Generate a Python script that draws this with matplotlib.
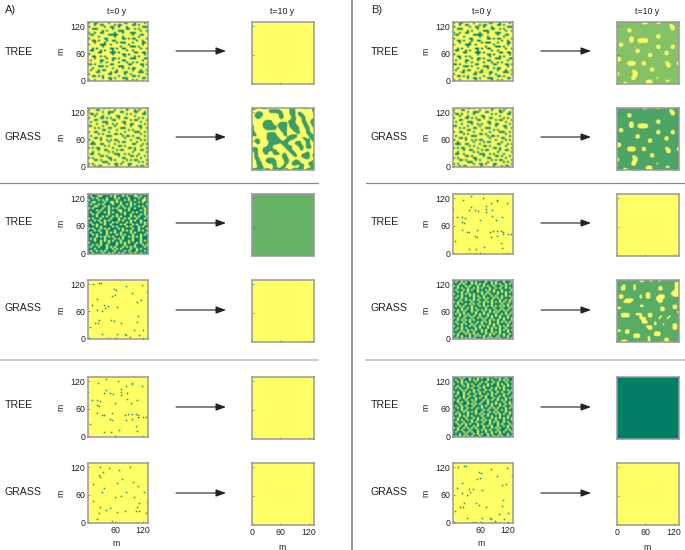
import numpy as np
import matplotlib
matplotlib.use('Agg')
import matplotlib.pyplot as plt

plt.rcParams['font.family'] = ['Liberation Sans', 'DejaVu Sans']

W, H = 685, 550

# initial states, '#' = occupied cell, read by eye so only roughly cell-accurate
noise_light_1 = [
    "#..##.....#.......##...#....#.", "...#..##.....#.##.....##.#....", "#.......#..##..#...#.......###",
    "..###.......#......##..#.#....", ".......#.#.....###........#..#", "#..#..##.....#...#...###......",
    ".##.......#####.......#...##..", ".....#.......#...#.......#....", "#.......##.......##.#.##.....#",
    "..##.#...#..##..........#..#..", "...#....#.....#.###...#....##.", "#.....###..#........#......#..",
    ".......#........#....###.#....", "..#.#......##.#..##.......#..#", ".##...#.#...#......#..#.......",
    ".....##....###.#.......##..##.", "#...........#....##.#.......#.", "..##..#.#.........#....#.#....",
    "...#.....#..##.#.....###....##", ".#....##....#....##........#..", "......#..#.....#...#..#.#.....",
    "##.#.......##.......##....##.#", ".....###.#.....###.........#..", "..#.........#....#..#.##......",
    ".#...#.##.....#.......#...#..#", "....##.....#.##...##.....###..", "#.........##......#..#.......#",
    "..##.#.#.......#......##.#....", ".......#..##.#...###.......##.", "#..#.......#.......#..#.#.....",
]
noise_light_2 = [
    "..#....##.#.....#..##.....#..#", "#...##.......#.....#...#.#....", ".......#..###...##.....##...#.",
    ".##.#.....#........#.#.....##.", "...#...#......##.......#......", "#.....##.#.#...#..##.....#.#..",
    "...##.......##.......#.##....#", ".#.....###.......##.......#...", "....#....#..#.#...#..##.....#.",
    "##.....#.....#.......#...##...", "...#.#....##....###.......#..#", ".......##.....#.....#.#.......",
    "#..##.....#.......#....###..#.", ".....#.#.....##.#.........#...", ".#.......###.....#.##.#.....#.",
    "...##.#...........#.....##....", "#.....#..#.#.##......#....#.#.", "..#.......#....#.##.....#.....",
    ".###..##.....#........##...#.#", "........#.#....##.#.......#...", "#.#.##......#.......##.#.....#",
    ".....#..##....#.##.....#..##..", "..#.......#.#.........#......#", ".##..#.......###..#.#....#....",
    "......##.#.....#.....##.#...#.", "#.#.......##.....##.......#...", "...##.#....#.#.....#.#.##....#",
    ".......###.......#.......#.#..", "#.#.......#..##.#...##.......#", "...#.##.......#.....#...#.##..",
]
noise_dark_1 = [
    "####.##.#.###..##.###.#.####.#", "#.###..####.#.###.#.###..#.###", "##.#.####.###.#.####.####.##.#",
    ".####.#.#.####.###.#.##.###..#", "##..####.##..#.#.####.###.#.##", "#.###.#.####.###.##.#.#.#####.",
    "###..###.#.####.#.###.###.#.##", ".#.####.##.#.#.###.#.##.####.#", "####.#.###.####..###.#####.#.#",
    "#.###.##.#.#.###.#.###.#.###.#", "##.#.#####.###.###.##.####.#.#", "####.##.#.##.#.#.####.#.#.###.",
    ".#.###.####.###.##.#.###.###.#", "###.#.##.#.####.#.###.#.##.###", "#.####.#.###.#.####.#.####.#.#",
    "##.#.###.##.####.#.###.#.###.#", "####.#.#####.#.####.#.###.#.##", ".#.###.#.#.####.#.####.##.###.",
    "###.#.###.###.###.#.#.###.#.##", "#.####.##.#.#.##.####.#.#####.", "##.#.####.####.#.#.###.###.#.#",
    "####.#.#.#.#.####.##.#.#.#.###", "#.#.####.####.#.#.####.###.###", "###.##.#.#.#.###.###.#.###.#.#",
    ".#####.###.###.#.#.#.###.#.###", "##.#.#.##.####.###.####.###.#.", "#.###.###.#.#.###.#.#.#.####.#",
    "###.#####.##.#.#.####.##.#.###", "#.##.#.#.####.####.#.###.###.#", "##.####.##.#.##.#.###.#.##.###",
]
noise_dark_2 = [
    "##.#.###.####.##.#.###.##.##.#", "#.##.#.##.#.####.##.#.###.###.", "###.#.###.#.#.#.###.#.#.##.#.#",
    ".#.###.#.###.##.#.##.###.#.###", "##.#.##.##.#.#.###.##.#.##.#.#", "#.###.#.#.##.###.#.#.###.####.",
    "##.#.##.####.#.##.##.#.#.#.#.#", ".###.#.#.#.###.#.#.###.###.###", "##.#.###.#.#.##.###.#.##.#.#.#",
    "#.##.#.###.##.#.#.##.#.#.####.", "###.##.#.#.#.###.##.###.##.#.#", ".#.#.####.###.#.#.#.#.#.#.##.#",
    "##.###.#.#.#.##.###.####.##.##", "#.#.#.###.###.#.#.#.#.#.#.#.#.", "####.##.#.#.####.###.###.###.#",
    ".#.#.#.##.##.#.#.#.##.#.#.#.##", "##.##.###.#.###.##.#.#.###.##.", "#.#.#.#.###.#.#.#.###.##.#.#.#",
    "###.##.#.#.##.###.#.#.#.###.##", ".#.##.###.##.#.#.##.###.#.#.#.", "##.#.#.#.#.####.##.#.#.##.###.",
    "#.###.##.###.#.#.#.###.#.#.#.#", "##.#.#.##.#.##.###.#.#.####.##", ".###.###.#.##.#.#.##.##.#.#.#.",
    "##.#.#.####.#.###.#.#.#.##.###", "#.##.##.#.#.##.#.##.###.#.#.#.", "###.#.#.##.###.#.##.#.#.###.##",
    ".#.###.#.#.#.###.#.#.##.#.##.#", "##.#.###.##.#.#.##.###.##.#.##", "#.##.#.#.#.####.#.#.#.#.###.#.",
]
noise_dark_3 = [
    "###.#.##.###.#.##.###.#.##.###", "#.##.###.#.#.####.#.###.#.#.##", "##.#.#.####.##.#.###.#.###.##.",
    ".###.##.#.###.###.#.##.#.##.##", "##.##.#.##.#.##.#.####.##.#.#.", "#.#.###.#.###.#.###.#.#.#.####",
    "####.#.###.#.###.#.##.###.#.#.", ".#.##.##.#.##.#.###.##.#.###.#", "##.##.#.###.#.###.#.#.###.#.##",
    "#.###.##.#.###.#.##.###.#.###.", "###.#.#.###.#.##.###.#.###.#.#", ".#.###.##.#.###.#.#.##.#.#.###",
    "##.#.##.##.###.##.###.###.##.#", "###.###.#.#.#.###.#.#.#.##.#.#", "#.##.#.###.###.#.##.###.#.###.",
    "##.#.##.#.##.#.###.#.#.###.#.#", ".###.#.####.###.#.###.##.#.###", "##.##.#.#.#.##.###.#.#.###.#.#",
    "#.#.###.###.#.#.#.###.#.#.##.#", "###.#.#.#.####.##.#.###.###.##", ".#.###.###.#.##.###.#.#.#.#.#.",
    "##.#.##.#.##.#.#.#.##.###.###.", "#.###.###.#.###.##.#.#.##.#.##", "##.#.#.#.###.#.###.###.#.###.#",
    "###.##.###.#.##.#.#.##.##.#.#.", ".#.##.#.#.#.###.###.#.#.###.##", "##.#.###.###.#.#.#.###.###.#.#",
    "#.###.#.#.##.###.##.#.#.#.###.", "###.##.###.#.#.##.#.###.###.##", "#.#.#.#.#.###.###.##.#.#.##.#.",
]

# t=10 y patterns
maze = [
    "###.####.......#..###...####.#", "#.......######....###........#", "..###...#######...###.##.....#",
    ".#####.......##...###.###.....", ".####........###...##..###....", "..##.........##....###..##...#",
    "......####.......####...##..##", ".....#####...####.###...###.##", "#....######.#####.####...##..#",
    "#....#######.####.#####..###.#", "#.....######.####..####...##..", "#.............###...###...##..",
    "##.....#####...##.....##..###.", "###....#####...##.####.....###", ".......######....#####.###..##",
    ".###...#######..####.....###.#", ".###....##########...###..##.#", "..##....#####.###...####..##..",
    ".......###.....#####..###.###.", "###..#####......###....##.###.", "###..#######.....###...##.....",
    ".##..###..###..#..###.....##..", ".##...##..####.##..###..####.#", ".##...........###...##.#####.#",
    ".###...####....###.......###..", "..##..######...###..###......#", "..###..#####....##.#####...###",
    "..###.....##...##..###.###.###", "...###....##..##.......##....#", "#####.###.#####.##.######.####",
]
spots = [
    "............###....##.........", ".........................##...", "..........................##..",
    ".....##...................##..", ".....##.......................", "..............................",
    "...................##.........", "......##...........##.........", "......##..#####...............",
    "......##..#####...............", ".##...........................", ".##................##.....##..",
    "...................##.....##..", ".........##...................", ".........##............##.....",
    "...............##......##.....", "...............##.............", "##............................",
    "##............................", ".....####...##.........##....#", ".....####...##..........##...#",
    "........................##....", "................##............", ".......##.......##............",
    "#.......##....................", "#.......##....................", ".......##..........#..........",
    ".......##..........#..........", "..............###......###....", "...##.........###.............",
]
patches = [
    "...........##...#...#.........", "............................##", "...#....#...................##",
    "..##....#...........##......##", "..##....#...........##......##", "...........................###",
    "..............##..........####", ".##........#..##....###....###", ".##........#..##...####.......",
    "....####...........###........", "...####.............##........", "..............................",
    "...........##..............##.", "##...................##....##.", ".....................##.......",
    ".............................#", "..####...###...##..............", "..####.....#...##....#...#.....",
    "...........###......#...#.....", "............##.................", "............###...#............",
    "..................#...#....##.", "..............###..........##.", "...............##..........##.",
    "##..##........................", "....##............###.........", "........###.......###.........",
    "........###....#..............", "...............#.......##.....", "..###..........#.......##.....",
]

# isolated occupied cells, metres
few_1_x = [22, 40, 66, 95, 97, 82, 117, 72, 72, 40, 34, 49, 55, 72, 85, 85, 8, 20, 27, 58, 107, 93, 19, 24, 19, 31, 36, 53, 49, 52, 80, 84, 87, 97, 104, 110, 97, 110, 119, 127, 5, 105, 108, 36, 50, 68, 60, 1]
few_1_y = [115, 124, 121, 115, 113, 109, 109, 102, 97, 101, 93, 95, 92, 90, 93, 82, 79, 78, 76, 73, 78, 73, 67, 66, 51, 45, 47, 51, 38, 36, 45, 35, 48, 49, 49, 47, 38, 41, 41, 41, 27, 21, 12, 10, 8, 14, 0, 97]
few_2_x = [27, 45, 67, 91, 23, 27, 33, 11, 36, 31, 58, 71, 82, 101, 75, 63, 99, 110, 123, 12, 129, 112, 27, 40, 49, 63, 80, 107, 105, 112, 23, 20, 53, 126]
few_2_y = [120, 118, 113, 121, 102, 99, 109, 84, 74, 66, 55, 56, 65, 55, 93, 86, 87, 78, 66, 46, 44, 41, 33, 27, 30, 23, 25, 33, 25, 25, 19, 6, 3, 19]
few_3_x = [12, 23, 29, 56, 61, 84, 117, 128, 60, 53, 96, 9, 19, 63, 34, 43, 38, 20, 31, 107, 115, 110, 50, 56, 72, 23, 15, 22, 108, 5, 101, 121, 31, 80, 64, 84, 91, 111, 41, 49, 63, 3, 121]
few_3_y = [120, 122, 122, 109, 107, 115, 118, 102, 96, 93, 101, 74, 86, 69, 73, 72, 66, 63, 60, 80, 84, 49, 41, 38, 34, 41, 33, 33, 36, 25, 17, 19, 9, 9, 8, 6, 3, 6, 0, 0, 0, 0, -1]

# uniform end states, position on the summer colormap
full_yellow = 1.0
tree_mid = 0.4
tree_light = 0.52
grass_mid = 0.3
grass_patch = 0.35
maze_green = 0.24
tree_dark = 0.0

row_labels = ['TREE', 'GRASS'] * 3
tick_vals = [0, 60, 120]
AX_X = (0, 131)
AX_Y = (-2, 129)


def to_grid(rows):
    return np.array([[c == '#' for c in r.ljust(30, '.')[:30]] for r in rows], dtype=float)


def soften(rows, hi, lo, sigma=0.8, thr=0.35):
    # round off the blocky cells so the patches look like the smooth originals
    big = np.kron(to_grid(rows), np.ones((8, 8)))
    t = np.arange(-24, 25)
    k = np.exp(-0.5 * (t / (sigma * 8)) ** 2)
    k = k / k.sum()
    big = np.pad(big, 24, mode='edge')
    big = np.apply_along_axis(lambda v: np.convolve(v, k, mode='same'), 0, big)
    big = np.apply_along_axis(lambda v: np.convolve(v, k, mode='same'), 1, big)
    big = big[24:-24, 24:-24]
    m = np.clip((big - thr) / 0.12 + 0.5, 0, 1)
    return lo + (hi - lo) * m


def noisy(rows):
    return 1 - to_grid(rows)


def make_ax(fig, x0, y0, x1, y1):
    return fig.add_axes([x0 / W, 1 - y1 / H, (x1 - x0) / W, (y1 - y0) / H])


def draw_panel(fig, box, grid=None, pts=None, fill=None, ylab=False, xlab=None):
    ax = make_ax(fig, *box)
    ext = [AX_X[0], AX_X[1], AX_Y[0], AX_Y[1]]
    if grid is not None:
        ax.imshow(grid, cmap='summer', vmin=0, vmax=1, extent=ext, aspect='auto', interpolation='bilinear')
    else:
        ax.imshow([[fill]], cmap='summer', vmin=0, vmax=1, extent=ext, aspect='auto')
    if pts is not None:
        ax.scatter(pts[0], pts[1], s=1.6, color='#2f9a70', linewidths=0)
    ax.set_xlim(*AX_X)
    ax.set_ylim(*AX_Y)
    ax.set_xticks(tick_vals)
    ax.set_yticks(tick_vals)
    ax.tick_params(direction='in', length=1.2, width=0.4, color='#555555', labelsize=6.3, pad=2,
                   labelcolor='#222222')
    ax.set_yticklabels(tick_vals if ylab else [])
    if xlab is None:
        ax.set_xticklabels([])
    else:
        ax.set_xticklabels(xlab)
    for s in ax.spines.values():
        s.set_color('#999999')
        s.set_linewidth(1.1)
    return ax


fig = plt.figure(figsize=(W / 100, H / 100), dpi=100)
bg = fig.add_axes([0, 0, 1, 1])
bg.set_xlim(0, W)
bg.set_ylim(H, 0)
bg.axis('off')

left_rows = [(22, 81), (108, 167), (194, 254), (280, 339), (377, 437), (463, 523)]
right_rows = [(22, 84), (108, 170), (194, 256), (280, 342), (377, 439), (463, 525)]
arrow_y = [51, 137, 223, 310, 407, 493]
text_y = [52, 137, 222, 308, 405, 492]

start_a = [noisy(noise_light_1), noisy(noise_light_2), noisy(noise_dark_1),
           (few_3_x, few_3_y), (few_1_x, few_1_y), (few_2_x, few_2_y)]
start_b = [noisy(noise_light_1), noisy(noise_light_2), (few_1_x, few_1_y),
           noisy(noise_dark_2), noisy(noise_dark_3), (few_3_x, few_3_y)]
end_a = [full_yellow, soften(maze, maze_green, 1.0, sigma=0.7, thr=0.55), tree_mid,
         full_yellow, full_yellow, full_yellow]
end_b = [soften(spots, 1.0, tree_light, sigma=0.7, thr=0.4), soften(spots, 1.0, grass_mid, sigma=0.7, thr=0.4),
         full_yellow, soften(patches, 1.0, grass_patch, sigma=0.45, thr=0.4), tree_dark, full_yellow]

# left panel x, right panel x, starts, ends, shift of the side
sides = [(88, 252, start_a, end_a, 0), (453, 617, start_b, end_b, 365)]

for lx, rx, starts, ends, dx in sides:
    for i in range(6):
        s = starts[i]
        last = i == 5
        box = (lx, left_rows[i][0], lx + 60, left_rows[i][1])
        xl = ['', 60, 120] if last else None
        if isinstance(s, tuple):
            draw_panel(fig, box, pts=s, fill=full_yellow, ylab=True, xlab=xl)
        else:
            draw_panel(fig, box, grid=s, ylab=True, xlab=xl)

        e = ends[i]
        box = (rx, right_rows[i][0], rx + 62, right_rows[i][1])
        xl = tick_vals if last else None
        if isinstance(e, np.ndarray):
            draw_panel(fig, box, grid=e, xlab=xl)
        else:
            draw_panel(fig, box, fill=e, xlab=xl)

        bg.annotate('', xy=(226 + dx, arrow_y[i]), xytext=(176 + dx, arrow_y[i]),
                    arrowprops=dict(arrowstyle='-|>,head_length=0.6,head_width=0.22', color='#222222', lw=0.8,
                                    mutation_scale=10, shrinkA=0, shrinkB=0))
        bg.text(5 + dx + (1 if dx else 0), text_y[i], row_labels[i], fontsize=7.6,
                color='#222222', va='center', ha='left')
        bg.text(61 + dx, arrow_y[i] + 0.5, 'm', rotation=90, fontsize=6.3, color='#222222', va='center', ha='center')

    bg.text(lx + 29, 11.5, 't=0 y', fontsize=6.3, ha='center', va='center', color='#222222')
    bg.text(rx + 30, 11.5, 't=10 y', fontsize=6.3, ha='center', va='center', color='#222222')
    bg.text(lx + 28, 544, 'm', fontsize=6.3, ha='center', va='center', color='#222222')
    bg.text(rx + 30, 547, 'm', fontsize=6.3, ha='center', va='center', color='#222222')

bg.text(5, 10, 'A)', fontsize=8, va='center', color='#222222')
bg.text(371, 10, 'B)', fontsize=8, va='center', color='#222222')

# separators
bg.plot([352, 352], [0, 550], color='#999999', lw=1.4)
bg.plot([0, 318], [183, 183], color='#8a8a8a', lw=0.9)
bg.plot([0, 318], [360, 360], color='#bbbbbb', lw=1.1)
bg.plot([366, 685], [183, 183], color='#8a8a8a', lw=0.9)
bg.plot([366, 685], [360, 360], color='#bbbbbb', lw=1.1)

fig.savefig('out.png', dpi=100)
